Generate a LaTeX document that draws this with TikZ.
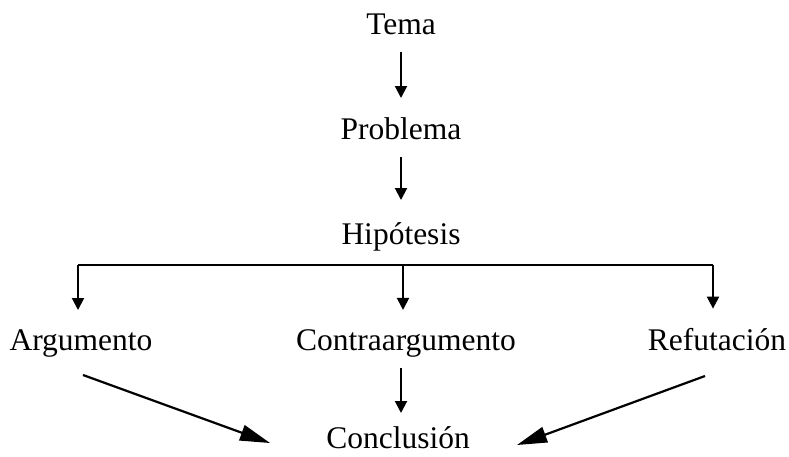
\documentclass[tikz,border=0pt]{standalone}
\usepackage{fontspec}
\setmainfont{Liberation Serif}
\usetikzlibrary{arrows.meta}
\begin{document}
\begin{tikzpicture}[x=1pt,y=-1pt,
  lbl/.style={inner sep=0pt, anchor=base, font=\fontsize{31.5}{36}\selectfont},
  arr/.style={line width=2pt, -{Triangle[length=12pt,width=12pt]}},
  bigarr/.style={line width=2.2pt, -{Triangle[length=30pt,width=16pt]}},
  bar/.style={line width=2pt}]
\useasboundingbox (0,0) rectangle (789,456);
\node[lbl] (tema)   at (401,34)  {Tema};
\node[lbl] (prob)   at (401,139) {Problema};
\node[lbl] (hip)    at (401,244) {Hipótesis};
\node[lbl] (arg)    at (81,350)  {Argumento};
\node[lbl] (contra) at (406,350) {Contraargumento};
\node[lbl] (ref)    at (717,350) {Refutación};
\node[lbl] (conc)   at (398,448) {Conclusión};
% vertical chain
\draw[arr, shorten <=18pt, shorten >=41pt] (tema.base) -- (prob.base);
\draw[arr, shorten <=18pt, shorten >=44pt] (prob.base) -- (hip.base);
% branching bar
\coordinate (jl) at (78,265);
\coordinate (jm) at (403,265);
\coordinate (jr) at (713,265);
\draw[bar] (jl) -- (jr);
\draw[arr] (jl) -- ([yshift=19pt]jl |- arg.north);
\draw[arr] (jm) -- ([yshift=19pt]jm |- contra.north);
\draw[arr] (jr) -- ([yshift=19pt]jr |- ref.north);
% to conclusion
\draw[arr] ([xshift=-5pt,yshift=-18pt]contra.base) -- ([xshift=3pt,yshift=35pt]conc.base);
\draw[bigarr] ([xshift=2pt,yshift=-25pt]arg.base) -- ([xshift=-128pt,yshift=5pt]conc.base);
\draw[bigarr] ([xshift=-12pt,yshift=-26pt]ref.base) -- ([xshift=119pt,yshift=3pt]conc.base);
\end{tikzpicture}
\end{document}
